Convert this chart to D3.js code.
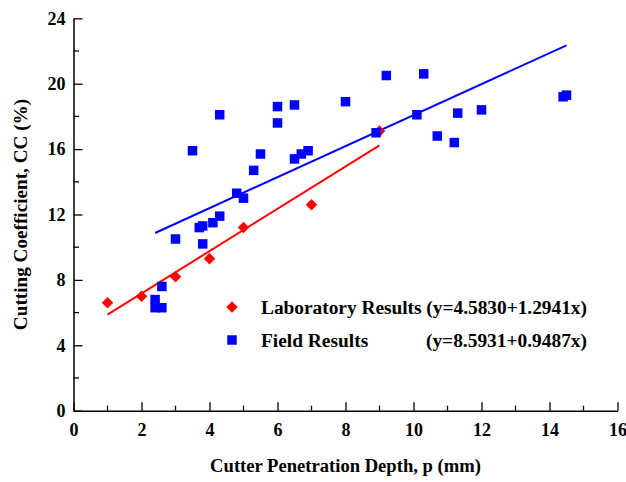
<!DOCTYPE html>
<html><head><meta charset="utf-8">
<script src="https://cdn.jsdelivr.net/npm/d3@7"></script>
<style>body{margin:0;background:#fff;} text{font-family:"Liberation Serif","Times New Roman",serif;font-weight:bold;}</style>
</head><body><svg id="c" width="626" height="482"></svg>
<script>
const labX = [1, 2, 3, 4, 5, 7, 9];
const labY = [6.6, 7.0, 8.2, 9.3, 11.2, 12.6, 17.1];
const fieldX = [2.6, 2.4, 2.4, 2.6, 3.0, 3.5, 3.7, 3.8, 3.8, 4.1, 4.3, 4.3, 4.8, 5.0, 5.3, 5.5, 6.0, 6.0, 6.5, 6.5, 6.7, 6.9, 8.0, 8.9, 9.2, 10.1, 10.3, 10.7, 11.2, 11.3, 12.0, 14.4, 14.5];
const fieldY = [7.6, 6.8, 6.3, 6.3, 10.5, 15.9, 11.2, 11.3, 10.2, 11.5, 11.9, 18.1, 13.3, 13.0, 14.7, 15.7, 18.6, 17.6, 18.7, 15.4, 15.7, 15.9, 18.9, 17.0, 20.5, 18.1, 20.6, 16.8, 16.4, 18.2, 18.4, 19.2, 19.3];
const labFit = {a: 4.5830, b: 1.2941, from: 1, to: 9};
const fieldFit = {a: 8.5931, b: 0.9487, from: 2.4, to: 14.5};
const xTicks = [0, 2, 4, 6, 8, 10, 12, 14, 16];
const yTicks = [0, 4, 8, 12, 16, 20, 24];
const legendLabels = ["Laboratory Results", "Field Results"];
const legendEqs = ["(y=4.5830+1.2941x)", "(y=8.5931+0.9487x)"];

const svg = d3.select("#c");
const L = 73.5, T = 18.3, W = 544, H = 392.4;
const x = d3.scaleLinear().domain([0, 16]).range([L, L + W]);
const y = d3.scaleLinear().domain([0, 24]).range([T + H, T]);

// minor ticks
const g = svg.append("g");
g.selectAll(".xm").data(d3.range(1, 16, 2)).enter().append("line")
  .attr("x1", d => x(d)).attr("x2", d => x(d)).attr("y1", y(0)).attr("y2", y(0) - 5)
  .attr("stroke", "#000").attr("stroke-width", 1.3);
g.selectAll(".ym").data(d3.range(2, 24, 4)).enter().append("line")
  .attr("y1", d => y(d)).attr("y2", d => y(d)).attr("x1", x(0)).attr("x2", x(0) + 5.5)
  .attr("stroke", "#000").attr("stroke-width", 1.3);

const xa = svg.append("g").attr("transform", `translate(0,${y(0)})`)
  .call(d3.axisBottom(x).tickValues(xTicks).tickSize(-8.5).tickPadding(13).tickSizeOuter(0));
const ya = svg.append("g").attr("transform", `translate(${x(0)},0)`)
  .call(d3.axisLeft(y).tickValues(yTicks).tickSize(-9).tickPadding(8).tickSizeOuter(0));
[xa, ya].forEach(a => {
  a.select(".domain").attr("stroke", "#000").attr("stroke-width", 1.5);
  a.selectAll(".tick line").attr("stroke", "#000").attr("stroke-width", 1.3);
  a.selectAll("text").attr("font-size", 18).attr("font-family", "Liberation Serif").attr("font-weight", "bold").attr("fill", "#000");
});

// fit lines
const line = d3.line().x(d => x(d[0])).y(d => y(d[1]));
[[labFit, "#ff0000"], [fieldFit, "#0000ff"]].forEach(([f, c]) => {
  svg.append("path").datum([[f.from, f.a + f.b * f.from], [f.to, f.a + f.b * f.to]])
    .attr("d", line).attr("stroke", c).attr("stroke-width", 2).attr("fill", "none");
});

// points
const diamond = d3.symbol().type(d3.symbolDiamond2).size(85);
svg.selectAll(".lab").data(labX.map((v, i) => [v, labY[i]])).enter().append("path")
  .attr("d", diamond).attr("transform", d => `translate(${x(d[0])},${y(d[1])})`).attr("fill", "#ff0000");
const sq = 9.5;
svg.selectAll(".fld").data(fieldX.map((v, i) => [v, fieldY[i]])).enter().append("rect")
  .attr("x", d => x(d[0]) - sq / 2).attr("y", d => y(d[1]) - sq / 2).attr("width", sq).attr("height", sq).attr("fill", "#0000ff");

// legend
svg.append("path").attr("d", diamond).attr("transform", "translate(232,307)").attr("fill", "#ff0000");
svg.append("rect").attr("x", 232 - sq / 2).attr("y", 340 - sq / 2).attr("width", sq).attr("height", sq).attr("fill", "#0000ff");
svg.append("text").attr("x", 261).attr("y", 314).attr("font-size", 19.4).attr("textLength", 326).text(legendLabels[0] + " " + legendEqs[0]);
svg.append("text").attr("x", 261).attr("y", 347).attr("font-size", 19.4).text(legendLabels[1]);
svg.append("text").attr("x", 587).attr("y", 347).attr("font-size", 19.4).attr("text-anchor", "end").text(legendEqs[1]);

// axis titles
svg.append("text").attr("x", x(8)).attr("y", 472).attr("text-anchor", "middle").attr("font-size", 18.6)
  .text("Cutter Penetration Depth, p (mm)");
svg.append("text").attr("transform", `translate(27,${y(12)}) rotate(-90)`).attr("text-anchor", "middle").attr("font-size", 19.2)
  .text("Cutting Coefficient, CC (%)");
</script></body></html>
